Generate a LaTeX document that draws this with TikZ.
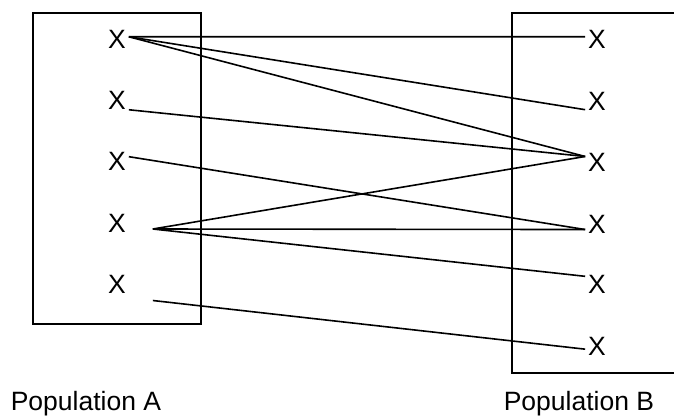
\documentclass[tikz,border=0pt]{standalone}
\usepackage{fontspec}
\setmainfont{Liberation Sans}
\begin{document}
\begin{tikzpicture}[x=1pt,y=-1pt,line width=1.6pt,
  popx/.style={inner sep=2.2pt,font=\fontsize{26.5}{30}\selectfont},
  poplabel/.style={anchor=base west,inner sep=0pt,font=\fontsize{26.5}{30}\selectfont}]
  \useasboundingbox (0,0) rectangle (674,416);
  % the two populations
  \draw (33,13) rectangle (201,324);
  \draw (676,13) rectangle (512,373);
  \foreach \i/\y in {1/39.5,2/100.5,3/161.7,4/223,5/284.5}
    \node[popx] (a\i) at (117,\y) {X};
  \foreach \i/\y in {1/39.7,2/101.7,3/162,4/224,5/284,6/346}
    \node[popx] (b\i) at (597,\y) {X};
  \coordinate (a4e) at ([xshift=24pt,yshift=-6pt]a4.east);
  \coordinate (a5e) at ([xshift=24pt,yshift=-16pt]a5.east);
  % links
  \draw (a1.13) -- (b1.166);
  \draw (a1.13) -- (b2.214);
  \draw (a1.13) -- (b3.155);
  \draw (a2.-38) -- (b3.155);
  \draw (a3.23) -- (b4.205);
  \draw (a4e) -- (b3.155);
  \draw (a4e) -- (b4.205);
  \draw (a4e) -- (b5.147);
  \draw (a5e) -- (b6.195);
  \node[poplabel] (labA) at (10,410.5) {Population A};
  \node[poplabel] (labB) at (503,410.5) {Population B};
\end{tikzpicture}
\end{document}
